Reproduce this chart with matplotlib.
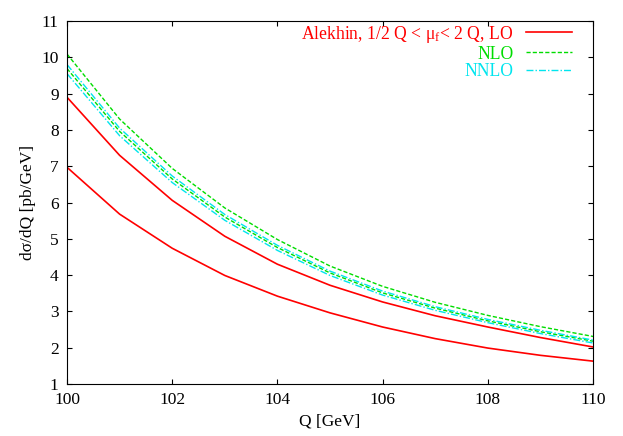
import matplotlib
matplotlib.use("Agg")
import matplotlib.pyplot as plt

Q = [100, 101, 102, 103, 104, 105, 106, 107, 108, 109, 110]
lo_low = [6.97, 5.68, 4.74, 3.99, 3.42, 2.96, 2.57, 2.25, 1.99, 1.79, 1.63]
lo_up = [8.9, 7.3, 6.06, 5.07, 4.3, 3.72, 3.26, 2.88, 2.57, 2.28, 2.02]
nlo_up = [10.09, 8.30, 6.94, 5.85, 4.98, 4.25, 3.69, 3.25, 2.89, 2.58, 2.31]
nlo_low = [9.69, 7.96, 6.65, 5.60, 4.76, 4.06, 3.51, 3.09, 2.74, 2.44, 2.18]
nnlo_up = [9.80, 8.05, 6.73, 5.67, 4.82, 4.11, 3.56, 3.13, 2.78, 2.48, 2.21]
nnlo_low = [9.55, 7.84, 6.55, 5.51, 4.68, 3.99, 3.45, 3.03, 2.69, 2.39, 2.13]

plt.rcParams["font.family"] = "Liberation Serif"
plt.rcParams["mathtext.fontset"] = "custom"
plt.rcParams["mathtext.rm"] = "Liberation Serif"
plt.rcParams["mathtext.it"] = "Liberation Serif"
fig = plt.figure(figsize=(6.23, 4.36), dpi=100)
ax = fig.add_axes([67/623, 52/436, 526/623, 363/436])

ax.plot(Q, lo_low, color="#ff0000", lw=1.2, label="Alekhin, 1/2 Q < μ$_\\mathrm{f}$< 2 Q, LO")
ax.plot(Q, lo_up, color="#ff0000", lw=1.2)
ax.plot(Q, nlo_up, color="#00dd00", lw=1.0, ls=(0, (3, 1.5)), label="NLO")
ax.plot(Q, nlo_low, color="#00dd00", lw=1.0, ls=(0, (3, 1.5)))
ax.plot(Q, nnlo_up, color="#00e5ee", lw=1.0, ls=(0, (5, 1.5, 1, 1.5)), label="NNLO")
ax.plot(Q, nnlo_low, color="#00e5ee", lw=1.0, ls=(0, (5, 1.5, 1, 1.5)))

ax.set_xlim(100, 110)
ax.set_ylim(1, 11)
ax.set_xticks(range(100, 111, 2))
ax.set_yticks(range(1, 12))
ax.tick_params(direction="in", top=True, right=True, labelsize=12.5, pad=6)
ax.set_xlabel("Q [GeV]", fontsize=12.5)
ax.set_ylabel("dσ/dQ [pb/GeV]", fontsize=12.5)

leg = ax.legend(loc="upper right", frameon=False, fontsize=12.7, markerfirst=False,
                handlelength=2.65, handletextpad=0.7, labelspacing=0.05,
                borderaxespad=0.1, borderpad=0.05, bbox_to_anchor=(0.966, 1.0))
for t, c in zip(leg.get_texts(), ["#ff0000", "#00dd00", "#00e5ee"]):
    t.set_color(c)

fig.savefig("out.png", dpi=100)
